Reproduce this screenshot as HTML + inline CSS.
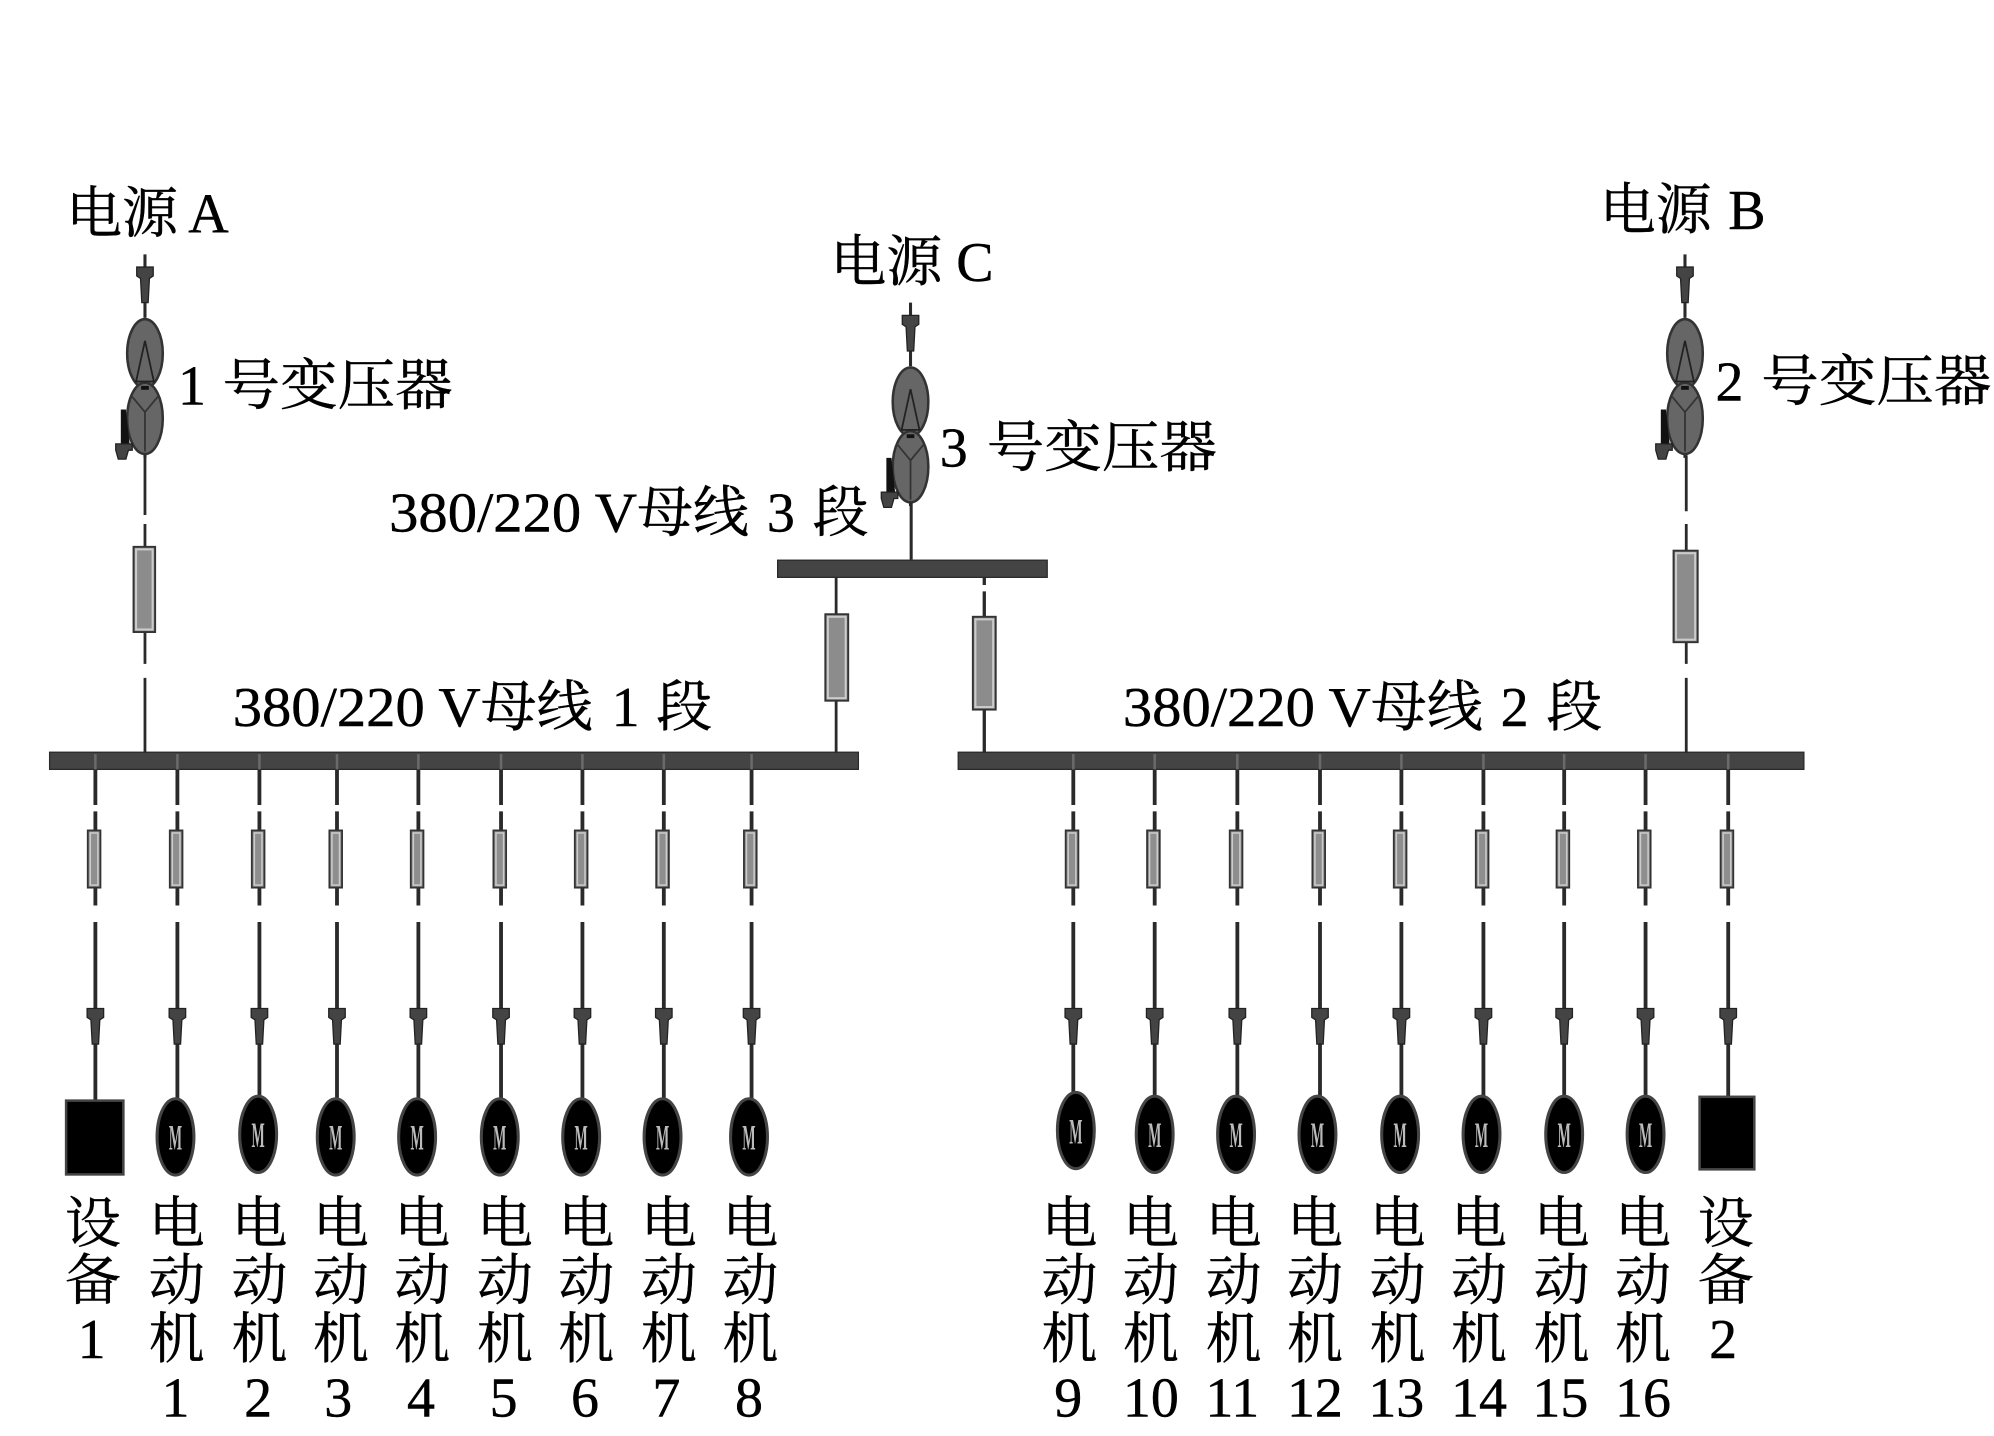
<!DOCTYPE html>
<html lang="zh">
<head>
<meta charset="utf-8">
<style>
html,body{margin:0;padding:0;background:#fff;width:1994px;height:1436px;overflow:hidden}
svg{display:block}
text{font-family:"Liberation Serif","Noto Serif CJK SC",serif;font-size:44px;fill:#000;stroke:#000;stroke-width:.35px}
</style>
</head>
<body>
<svg width="1994" height="1436" viewBox="0 0 1568 1129.2" xmlns="http://www.w3.org/2000/svg">
<defs>
  <g id="arrow"><path d="M-6.500,0H6.500V7L3.500,9L2.500,28H-2.500L-3.500,9L-6.500,7Z" fill="#444" stroke="#222" stroke-width="1"/></g>
  <g id="fs">
    <rect x="-5" y="0" width="10" height="45" fill="#888" stroke="#333" stroke-width="1.400"/>
    <rect x="-3" y="2" width="6" height="41" fill="#8e8e8e" stroke="#ccc" stroke-width="1.200"/>
  </g>
  <g id="br" stroke="#2a2a2a" stroke-width="3" fill="none">
    <path d="M0,605V633M0,638V712M0,725V795M0,815V866"/>
    <rect x="-1" y="593" width="2" height="12" fill="#6a6a6a" stroke="none"/>
    <use href="#fs" x="-1" y="653" stroke="none"/>
    <use href="#arrow" y="793" stroke="none"/>
  </g>
  <g id="mot">
    <ellipse cx="0" cy="0" rx="14.500" ry="30" fill="#000" stroke="#444" stroke-width="2.400"/>
    <text transform="translate(0,10) scale(.55,1.400)" text-anchor="middle" style="font-size:20px;font-weight:bold;fill:#bbb;stroke:none">M</text>
  </g>
  <g id="tr">
    <path d="M0,0V50M0,155V160" stroke="#2a2a2a" stroke-width="2.400" fill="none"/>
    <use href="#arrow" y="10"/>
    <ellipse cx="0" cy="78" rx="14" ry="27" fill="#666" stroke="#333" stroke-width="2"/>
    <ellipse cx="0" cy="129" rx="14" ry="28" fill="#666" stroke="#333" stroke-width="2"/>
    <path d="M0,68L-7,100H7Z" fill="none" stroke="#222" stroke-width="1.400"/>
    <path d="M-3,105H3" stroke="#111" stroke-width="3"/>
    <path d="M-10,112L0,124L10,112M0,124V155" fill="none" stroke="#333" stroke-width="1.400"/>
    <path d="M-15,122H-19V150H-12Z" fill="#111"/>
    <path d="M-23,149H-10V154H-13L-15,161H-21L-23,154Z" fill="#444" stroke="#222" stroke-width="1"/>
  </g>
  <g id="stk">
    <text y="977" text-anchor="middle">电</text>
    <text y="1022" text-anchor="middle">动</text>
    <text y="1068" text-anchor="middle">机</text>
  </g>
</defs>

<!-- Bus bars -->
<rect x="39" y="591.500" width="636" height="13.500" fill="#444" stroke="#2a2a2a" stroke-width="1"/>
<rect x="753.500" y="591.500" width="665" height="13.500" fill="#444" stroke="#2a2a2a" stroke-width="1"/>
<rect x="611.500" y="440.500" width="212" height="13.500" fill="#444" stroke="#2a2a2a" stroke-width="1"/>

<!-- Transformers -->
<use href="#tr" x="114" y="200"/>
<use href="#tr" x="1325" y="200"/>
<use href="#tr" x="716" y="238"/>
<path d="M716.500,395V440" stroke="#2a2a2a" stroke-width="2.400"/>

<!-- Feeder lines -->
<g stroke="#2a2a2a" stroke-width="2.200" fill="none">
  <path d="M114,358V405M114,412V430M114,497V522M114,533V592"/>
  <path d="M1326,358V402M1326,412V433M1326,505V522M1326,533V592"/>
  <path d="M657.500,454V483M657.500,551V592"/>
  <path d="M774,454V460M774,465V485M774,558V592" stroke-width="2.600"/>
</g>
<g fill="#8c8c8c" stroke="#333" stroke-width="1.500">
  <rect x="105" y="430" width="17" height="67"/>
  <rect x="1316" y="433" width="19" height="72"/>
  <rect x="649" y="483" width="18" height="68"/>
  <rect x="765" y="485" width="18" height="73"/>
</g>
<g fill="none" stroke="#ccc" stroke-width="1.600">
  <rect x="107" y="432" width="13" height="63"/>
  <rect x="1318" y="435" width="15" height="68"/>
  <rect x="651" y="485" width="14" height="64"/>
  <rect x="767" y="487" width="14" height="69"/>
</g>

<!-- Branches left -->
<use href="#br" x="75"/><use href="#br" x="139.500"/><use href="#br" x="204"/><use href="#br" x="265"/>
<use href="#br" x="329"/><use href="#br" x="394"/><use href="#br" x="458"/><use href="#br" x="522"/><use href="#br" x="591"/>
<!-- Branches right -->
<use href="#br" x="844"/><use href="#br" x="908"/><use href="#br" x="973"/><use href="#br" x="1038"/>
<use href="#br" x="1102"/><use href="#br" x="1166.500"/><use href="#br" x="1230"/><use href="#br" x="1294"/><use href="#br" x="1359"/>

<!-- Devices -->
<rect x="52" y="865.500" width="45" height="58" fill="#000" stroke="#444" stroke-width="2"/>
<rect x="1336.500" y="862.500" width="43" height="57" fill="#000" stroke="#444" stroke-width="2"/>
<use href="#mot" x="138" y="894"/><use href="#mot" x="203" y="892"/><use href="#mot" x="264" y="894"/><use href="#mot" x="328" y="894"/>
<use href="#mot" x="393" y="894"/><use href="#mot" x="457" y="894"/><use href="#mot" x="521" y="894"/><use href="#mot" x="589" y="894"/>
<use href="#mot" x="846" y="889"/><use href="#mot" x="908" y="892"/><use href="#mot" x="972" y="892"/><use href="#mot" x="1036" y="892"/>
<use href="#mot" x="1101" y="892"/><use href="#mot" x="1165" y="892"/><use href="#mot" x="1230" y="892"/><use href="#mot" x="1294" y="892"/>

<!-- Top labels -->
<text x="52" y="183">电源</text><text x="148" y="183">A</text>
<text x="1258" y="180">电源</text><text x="1359" y="180">B</text>
<text x="653" y="221">电源</text><text x="752" y="221">C</text>
<text x="140" y="318">1</text><text x="175" y="318" textLength="181" lengthAdjust="spacingAndGlyphs">号变压器</text>
<text x="1349" y="315">2</text><text x="1385" y="315" textLength="181" lengthAdjust="spacingAndGlyphs">号变压器</text>
<text x="739" y="367">3</text><text x="776" y="367" textLength="181" lengthAdjust="spacingAndGlyphs">号变压器</text>

<text x="306" y="418" textLength="195" lengthAdjust="spacingAndGlyphs">380/220 V</text><text x="501" y="418" textLength="88" lengthAdjust="spacingAndGlyphs">母线</text><text x="603" y="418">3</text><text x="639" y="418">段</text>
<text x="183" y="571" textLength="195" lengthAdjust="spacingAndGlyphs">380/220 V</text><text x="378" y="571" textLength="88" lengthAdjust="spacingAndGlyphs">母线</text><text x="481" y="571">1</text><text x="516" y="571">段</text>
<text x="883" y="571" textLength="195" lengthAdjust="spacingAndGlyphs">380/220 V</text><text x="1078" y="571" textLength="88" lengthAdjust="spacingAndGlyphs">母线</text><text x="1180" y="571">2</text><text x="1216" y="571">段</text>

<!-- Left stacks -->
<text x="73" y="977" text-anchor="middle">设</text><text x="73" y="1022" text-anchor="middle">备</text><text x="72" y="1068" text-anchor="middle">1</text>
<use href="#stk" x="139"/><use href="#stk" x="204"/><use href="#stk" x="268"/><use href="#stk" x="332"/>
<use href="#stk" x="397"/><use href="#stk" x="461"/><use href="#stk" x="526"/><use href="#stk" x="590"/>
<g text-anchor="middle">
  <text x="138" y="1114">1</text><text x="203" y="1114">2</text><text x="266" y="1114">3</text><text x="331" y="1114">4</text>
  <text x="396" y="1114">5</text><text x="460" y="1114">6</text><text x="524" y="1114">7</text><text x="589" y="1114">8</text>
</g>
<!-- Right stacks -->
<use href="#stk" x="841"/><use href="#stk" x="905"/><use href="#stk" x="970"/><use href="#stk" x="1034"/>
<use href="#stk" x="1099"/><use href="#stk" x="1163"/><use href="#stk" x="1228"/><use href="#stk" x="1292"/>
<text x="1357" y="977" text-anchor="middle">设</text><text x="1357" y="1022" text-anchor="middle">备</text><text x="1355" y="1068" text-anchor="middle">2</text>
<g text-anchor="middle">
  <text x="840" y="1114">9</text><text x="905" y="1114">10</text><text x="969" y="1114">11</text><text x="1034" y="1114">12</text>
  <text x="1098" y="1114">13</text><text x="1163" y="1114">14</text><text x="1227" y="1114">15</text><text x="1292" y="1114">16</text>
</g>
</svg>
</body>
</html>
